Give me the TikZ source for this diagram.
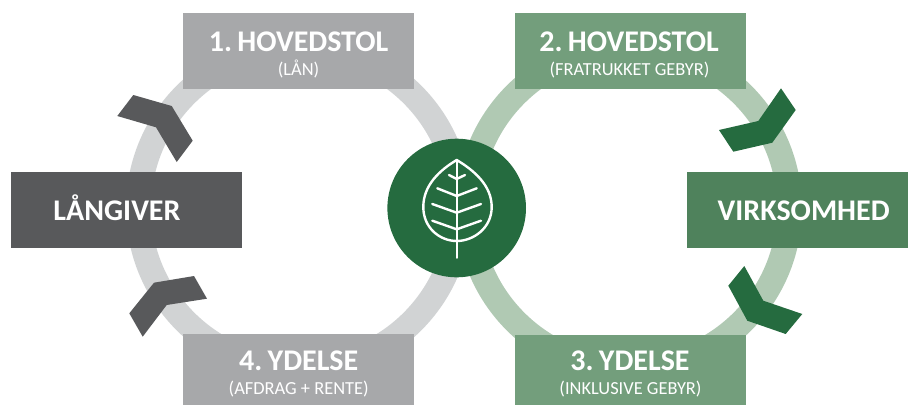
\documentclass[tikz,border=0pt]{standalone}
\usepackage{fontspec}
\setmainfont{Carlito}
\newfontfamily\titlefont{Carlito}[WordSpace=0.45]
\definecolor{boxgray}{HTML}{A7A8AA}
\definecolor{darkgray}{HTML}{58595B}
\definecolor{ringgray}{HTML}{D1D3D4}
\definecolor{ringgreen}{HTML}{B0C9B3}
\definecolor{boxgreen}{HTML}{739E7C}
\definecolor{midgreen}{HTML}{4F825C}
\definecolor{deepgreen}{HTML}{256B3F}
\tikzset{
  panel/.style={rectangle,inner sep=0pt,minimum width=231pt,anchor=north west},
  title/.style={text=white,anchor=base,inner sep=0pt,font=\fontsize{30}{30}\titlefont\bfseries},
  subtitle/.style={text=white,anchor=base,inner sep=0pt,font=\fontsize{18.4}{18.4}\selectfont},
  ring/.style={line width=25pt},
  veinline/.style={draw=white,line width=2.4pt,line cap=round,line join=round}
}
\begin{document}
\begin{tikzpicture}[x=1pt,y=-1pt]
\useasboundingbox (0,0) rectangle (908,405);
% rings
\draw[ring,ringgray] (299,208) circle (160.5);
\draw[ring,ringgreen] (629,208) circle (160.5);
% arrows
\fill[darkgray] (133.3,95) -- (171.7,106) -- (192.7,140.7) -- (176.7,162) -- (156,127.3) -- (117.3,116) -- cycle;
\fill[deepgreen] (781,88.3) -- (795.7,110) -- (772.3,142.7) -- (733.3,151.7) -- (719,130) -- (758.3,121) -- cycle;
\fill[deepgreen] (744.3,266) -- (763.3,300.7) -- (802.3,314) -- (785.7,334) -- (747.3,320.7) -- (728.3,285.7) -- cycle;
\fill[darkgray] (194,276) -- (207,298.7) -- (166.7,305) -- (142.7,336.7) -- (129.3,313.3) -- (154,282.7) -- cycle;
% panels
\node[panel,fill=boxgray,minimum height=75.7pt] (box1) at (183,13) {};
\node[panel,fill=boxgreen,minimum height=75.7pt] (box2) at (515,13) {};
\node[panel,fill=boxgreen,minimum height=70pt] (box3) at (515,335) {};
\node[panel,fill=boxgray,minimum height=71pt] (box4) at (183,334) {};
\node[panel,fill=darkgray,minimum height=76pt] (lender) at (11,172) {};
\node[panel,fill=midgreen,minimum height=76pt,minimum width=221pt] (company) at (687,172) {};
% texts
\node[title] (t1) at (298.5,51) {1. HOVEDSTOL};
\node[subtitle] (s1) at (298.5,75) {(LÅN)};
\node[title] (t2) at (629,51) {2. HOVEDSTOL};
\node[subtitle] (s2) at (629.5,75) {(FRATRUKKET GEBYR)};
\node[title] (t3) at (630,370.7) {3. YDELSE};
\node[subtitle] (s3) at (630.5,394) {(INKLUSIVE GEBYR)};
\node[title] (t4) at (298.7,370.7) {4. YDELSE};
\node[subtitle] (s4) at (298.7,394) {(AFDRAG + RENTE)};
\node[title] (tl) at (117,220.7) {LÅNGIVER};
\node[title] (tc) at (803.7,220.7) {VIRKSOMHED};
% centre
\node[circle,fill=deepgreen,minimum size=138.6pt,inner sep=0pt] (hub) at (456.7,208) {};
\draw[veinline] (456.7,160) .. controls (440,170) and (423.3,185) .. (423.3,207)
  .. controls (423.3,228) and (440,241) .. (456.7,241)
  .. controls (473.4,241) and (491.7,228) .. (491.7,207)
  .. controls (491.7,185) and (473.4,170) .. (456.7,160) -- cycle;
\draw[veinline] (456.7,160) -- (456.7,257.7);
\draw[veinline] (449,175) -- (456.7,179) -- (465,175);
\draw[veinline] (437.3,188.3) -- (456.7,196) -- (476.7,188.3);
\draw[veinline] (432.3,204) -- (456.7,212.7) -- (481,204);
\draw[veinline] (432.3,220.7) -- (456.7,229.3) -- (481,220.7);
\end{tikzpicture}
\end{document}
